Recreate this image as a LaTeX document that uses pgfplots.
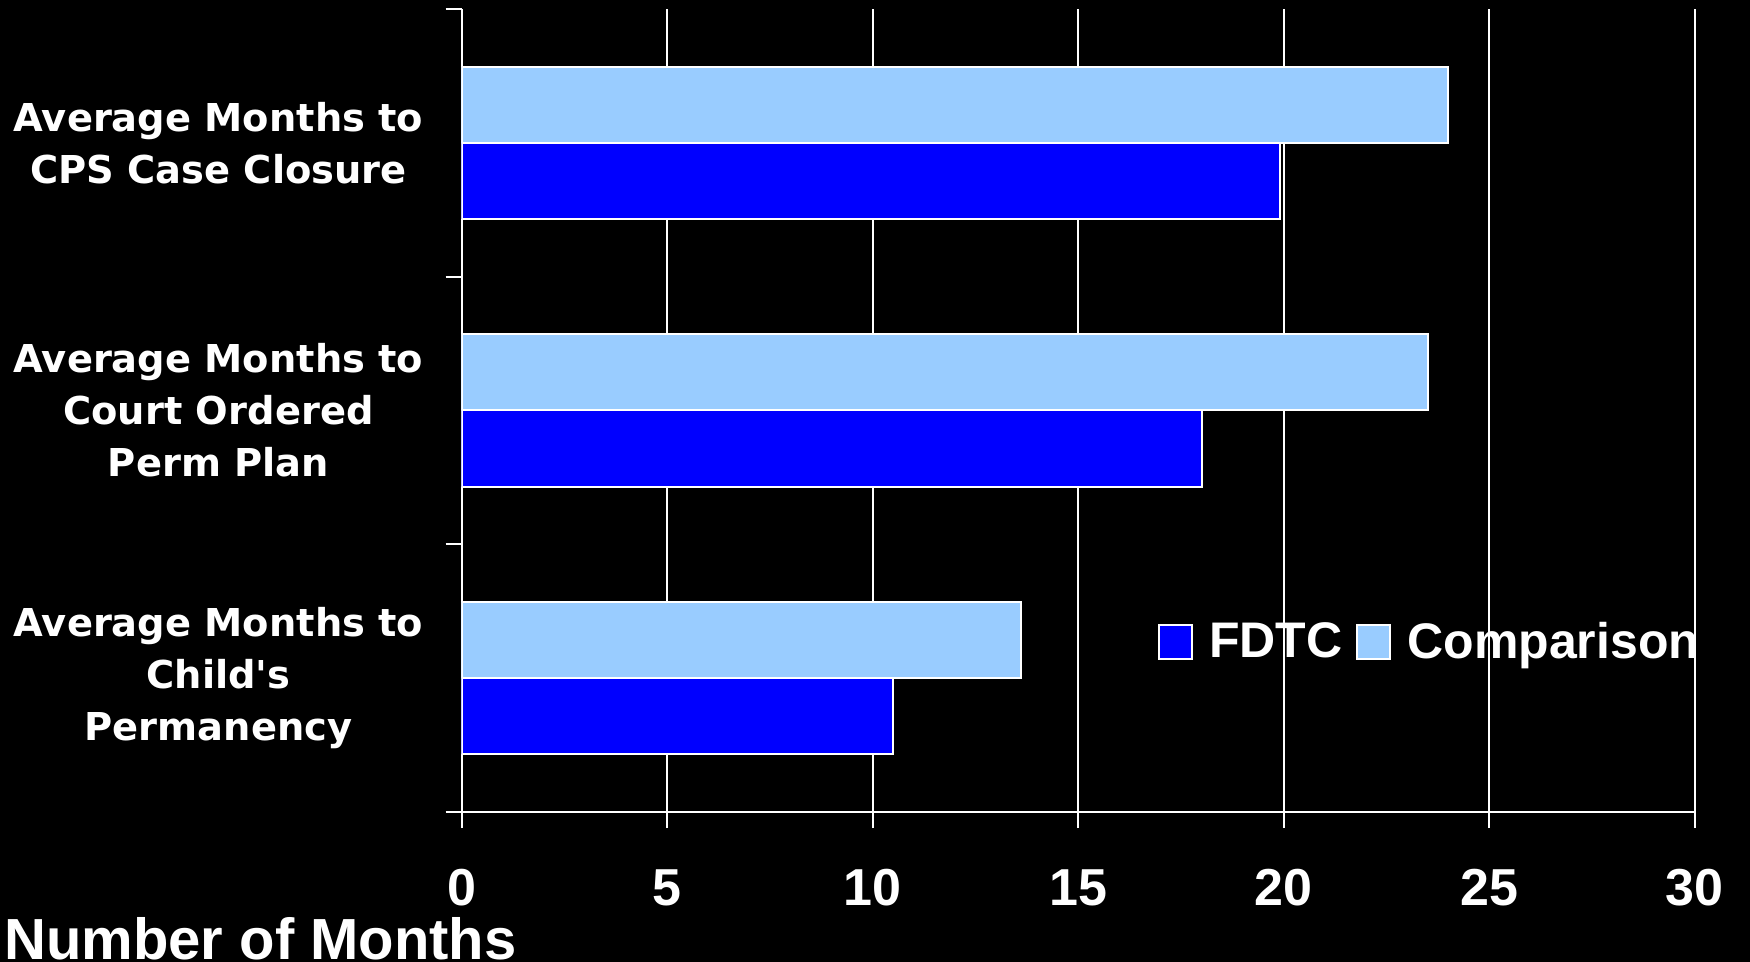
\documentclass[border=0pt]{standalone}
\usepackage{fontspec}
\setmainfont{Liberation Sans}
\newfontfamily\dvfont{DejaVu Sans}
\usepackage{pgfplots}
\pgfplotsset{compat=1.18}
\definecolor{fdtc}{HTML}{0000FF}
\definecolor{comp}{HTML}{99CCFF}
\begin{document}
\begin{tikzpicture}
\fill[black] (0,0) rectangle (875bp,481bp);
\begin{axis}[
  at={(230.85bp,75bp)}, anchor=south west,
  scale only axis, width=616.5bp, height=401.5bp,
  xbar, bar width=38bp,
  xmin=0, xmax=30, ymin=-0.5, ymax=2.5,
  xtick={0,5,...,30},
  ytick={-0.5,0.5,1.5,2.5},
  y tick label as interval,
  yticklabels={{Average Months to\\Child\textquotesingle s\\Permanency},{Average Months to\\Court Ordered\\Perm Plan},{Average Months to\\CPS Case Closure}},
  axis x line=bottom, axis y line=left,
  axis line style={-, white, line width=1bp},
  tick align=outside, major tick length=8bp,
  tick style={white, line width=1bp},
  xmajorgrids, grid style={white, line width=1bp},
  /pgf/number format/assume math mode=true,
  xticklabel style={font=\fontsize{26bp}{30bp}\selectfont\bfseries, text=white, anchor=center, yshift=-29.7bp},
  yticklabel style={font=\dvfont\fontsize{19.2bp}{26bp}\selectfont\bfseries, text=white, align=center, anchor=center, xshift=-113.6bp},
  legend columns=2,
  legend style={at={(0.5645,0.2117)}, anchor=west, draw=none, fill=none, inner sep=0pt,
    text=white, font=\fontsize{25bp}{30bp}\selectfont\bfseries,
    nodes={inner sep=0pt},
    /tikz/every odd column/.append style={column sep=8bp},
    /tikz/every even column/.append style={column sep=7bp}},
  legend image code/.code={\draw[#1, draw=white, line width=1bp] (0bp,-8.5bp) rectangle (16.5bp,8.5bp);},
]
\addplot[fill=fdtc, draw=white, line width=1bp, bar shift=-19bp] coordinates {(10.5,0) (18.0,1) (19.9,2)};
\addplot[fill=comp, draw=white, line width=1bp, bar shift=19bp] coordinates {(13.6,0) (23.5,1) (24.0,2)};
\legend{FDTC, Comparison}
\end{axis}
\node[anchor=base west, inner sep=0pt, text=white, font=\fontsize{29bp}{34bp}\selectfont\bfseries] at (2bp,1.5bp) {Number of Months};
\pgfresetboundingbox
\path[use as bounding box] (0,0) rectangle (875bp,481bp);
\end{tikzpicture}
\end{document}
